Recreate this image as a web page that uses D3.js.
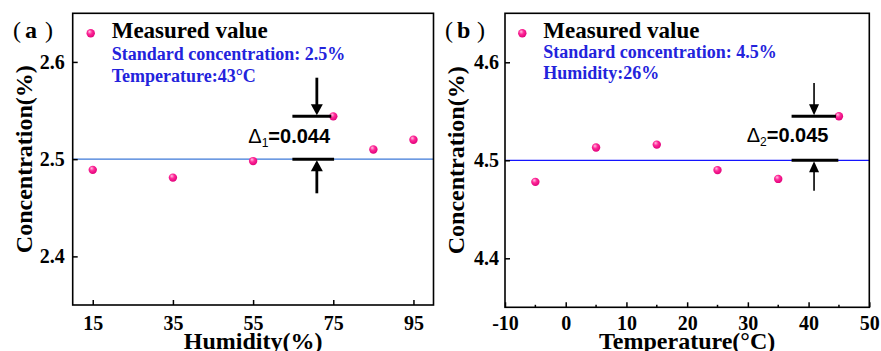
<!DOCTYPE html>
<html>
<head>
<meta charset="utf-8">
<script src="https://cdn.jsdelivr.net/npm/d3@7"></script>
<style>
  html, body { margin: 0; padding: 0; background: #fff; }
  svg { display: block; }
</style>
</head>
<body>
<svg id="chart" width="881" height="351"></svg>
<script>
// ---------------- data ----------------
const humidityA = [15, 35, 55, 75, 85, 95];
const concentrationA = [2.489, 2.481, 2.498, 2.544, 2.510, 2.520];
const temperatureB = [-5, 5, 15, 25, 35, 45];
const concentrationB = [4.478, 4.513, 4.516, 4.490, 4.481, 4.545];

const xTicksA = [15, 35, 55, 75, 95];
const yTicksA = [2.4, 2.5, 2.6];
const xTicksB = [-10, 0, 10, 20, 30, 40, 50];
const xMinorTicksB = [-5, 5, 15, 25, 35, 45];
const yTicksB = [4.4, 4.5, 4.6];

const standardA = 2.5, standardB = 4.5;
const deltaA = "0.044", deltaB = "0.045";

const svg = d3.select("#chart");
const serif = "'Liberation Serif', 'Times New Roman', serif";
const sans = "'Liberation Sans', Arial, sans-serif";

// gradient for spheres
const defs = svg.append("defs");
const grad = defs.append("radialGradient").attr("id", "ball")
  .attr("cx", "45%").attr("cy", "40%").attr("r", "60%").attr("fx", "35%").attr("fy", "30%");
grad.append("stop").attr("offset", "0%").attr("stop-color", "#ffc2e4");
grad.append("stop").attr("offset", "45%").attr("stop-color", "#ff2a98");
grad.append("stop").attr("offset", "100%").attr("stop-color", "#e0007a");

function panel(cfg) {
  const g = svg.append("g");
  const x = d3.scaleLinear().domain(cfg.xDomain).range([cfg.left, cfg.right]);
  const y = d3.scaleLinear().domain(cfg.yDomain).range([cfg.bottom, cfg.top]);

  // standard line
  g.append("line")
    .attr("x1", cfg.left).attr("x2", cfg.right)
    .attr("y1", y(cfg.standard)).attr("y2", y(cfg.standard))
    .attr("stroke", cfg.lineColor).attr("stroke-width", 1.2);

  // x axis
  const xa = g.append("g").attr("transform", `translate(0,${cfg.bottom})`)
    .call(d3.axisBottom(x).tickValues(cfg.xTicks).tickFormat(d => String(d))
      .tickSizeInner(-5).tickSizeOuter(0).tickPadding(cfg.xPad));
  xa.select(".domain").remove();
  xa.selectAll("line").attr("stroke", "#000").attr("stroke-width", 1.5);
  xa.selectAll("text").attr("font-family", serif).attr("font-weight", "bold")
    .attr("font-size", 20).attr("fill", "#000");
  if (cfg.xMinor) {
    g.selectAll(".minor").data(cfg.xMinor).join("line")
      .attr("x1", d => x(d)).attr("x2", d => x(d))
      .attr("y1", cfg.bottom).attr("y2", cfg.bottom - 2.5)
      .attr("stroke", "#000").attr("stroke-width", 1.5);
  }

  // y axis
  const ya = g.append("g").attr("transform", `translate(${cfg.left},0)`)
    .call(d3.axisLeft(y).tickValues(cfg.yTicks).tickFormat(d3.format(".1f"))
      .tickSizeInner(-5).tickSizeOuter(0).tickPadding(cfg.yPad));
  ya.select(".domain").remove();
  ya.selectAll("line").attr("stroke", "#000").attr("stroke-width", 1.5);
  ya.selectAll("text").attr("font-family", serif).attr("font-weight", "bold")
    .attr("font-size", 20).attr("fill", "#000");

  // frame
  g.append("rect").attr("x", cfg.left).attr("y", cfg.top)
    .attr("width", cfg.right - cfg.left).attr("height", cfg.bottom - cfg.top)
    .attr("fill", "none").attr("stroke", "#000").attr("stroke-width", 1.6);

  // points
  g.selectAll(".pt").data(cfg.xs.map((d, i) => [d, cfg.ys[i]])).join("circle")
    .attr("cx", d => x(d[0])).attr("cy", d => y(d[1])).attr("r", 4.2)
    .attr("fill", "url(#ball)");

  // axis titles
  g.append("text").attr("x", (cfg.left + cfg.right) / 2).attr("y", 349)
    .attr("text-anchor", "middle").attr("font-family", serif).attr("font-weight", "bold")
    .attr("font-size", 24).text(cfg.xTitle);
  g.append("text")
    .attr("transform", `translate(${cfg.yTitleX},${(cfg.top + cfg.bottom) / 2}) rotate(-90)`)
    .attr("text-anchor", "middle").attr("font-family", serif).attr("font-weight", "bold")
    .attr("font-size", 24).text("Concentration(%)");

  // panel label
  const pl = g.append("text").attr("y", 38).attr("font-family", serif).attr("font-size", 24);
  pl.append("tspan").attr("x", cfg.labelX).text("(");
  pl.append("tspan").attr("x", cfg.labelX + 12).attr("font-weight", "bold").text(cfg.label);
  pl.append("tspan").attr("x", cfg.labelX + 32).text(")");

  // legend
  g.append("circle").attr("cx", cfg.legendX - 21).attr("cy", 33.3).attr("r", 4.2).attr("fill", "url(#ball)");
  g.append("text").attr("x", cfg.legendX).attr("y", 38).attr("font-family", serif)
    .attr("font-weight", "bold").attr("font-size", 23).text("Measured value");
  g.append("text").attr("x", cfg.legendX).attr("y", cfg.note1Y).attr("font-family", serif)
    .attr("font-weight", "bold").attr("font-size", 18).attr("fill", "#2323dc").text(cfg.note1);
  g.append("text").attr("x", cfg.legendX).attr("y", cfg.note2Y).attr("font-family", serif)
    .attr("font-weight", "bold").attr("font-size", 18).attr("fill", "#2323dc").text(cfg.note2);

  // delta annotation
  const a = cfg.ann;
  const yTop = y(d3.max(cfg.ys)), yStd = y(cfg.standard);
  const ax = x(a.arrowX);
  g.append("line").attr("x1", x(a.barFrom)).attr("x2", x(a.barTo))
    .attr("y1", yTop).attr("y2", yTop).attr("stroke", "#000").attr("stroke-width", 3);
  g.append("line").attr("x1", x(a.barFrom)).attr("x2", x(a.barTo2))
    .attr("y1", yStd).attr("y2", yStd).attr("stroke", "#000").attr("stroke-width", 3);
  // down arrow
  g.append("line").attr("x1", ax).attr("x2", ax).attr("y1", a.downStart).attr("y2", yTop - 8)
    .attr("stroke", "#000").attr("stroke-width", a.shaft);
  g.append("path").attr("d", `M${ax - a.head},${yTop - a.headH}L${ax + a.head},${yTop - a.headH}L${ax},${yTop - 1}Z`)
    .attr("fill", "#000");
  // up arrow
  g.append("line").attr("x1", ax).attr("x2", ax).attr("y1", a.upStart).attr("y2", yStd + 8)
    .attr("stroke", "#000").attr("stroke-width", a.shaft);
  g.append("path").attr("d", `M${ax - a.head},${yStd + a.headH}L${ax + a.head},${yStd + a.headH}L${ax},${yStd + 1}Z`)
    .attr("fill", "#000");

  const t = g.append("text").attr("x", a.textX).attr("y", a.textY)
    .attr("font-family", sans).attr("font-size", 20);
  t.append("tspan").text("Δ");
  t.append("tspan").attr("font-size", 12).attr("dy", 4).text(a.sub);
  t.append("tspan").attr("dy", -4).attr("font-weight", "bold").text("=" + a.value);
}

panel({
  left: 72.7, right: 433.5, top: 13.3, bottom: 305,
  xDomain: [10, 100], yDomain: [2.35, 2.65],
  xTicks: xTicksA, yTicks: yTicksA, xPad: 10.5, yPad: 8,
  xs: humidityA, ys: concentrationA, standard: standardA,
  lineColor: "#3c78d8", xTitle: "Humidity(%)", yTitleX: 32,
  label: "a", labelX: 13, legendX: 111.7,
  note1: "Standard concentration: 2.5%", note1Y: 60,
  note2: "Temperature:43°C", note2Y: 82,
  ann: { arrowX: 70.9, barFrom: 64.8, barTo: 74.5, barTo2: 75.2,
         downStart: 77.7, upStart: 193.3, shaft: 2.8, head: 6, headH: 12,
         textX: 248.3, textY: 143.3, sub: "1", value: deltaA }
});

panel({
  left: 505, right: 869.3, top: 13.3, bottom: 307.3,
  xDomain: [-10, 50], yDomain: [4.35, 4.65],
  xTicks: xTicksB, xMinor: xMinorTicksB, yTicks: yTicksB, xPad: 8.2, yPad: 6,
  xs: temperatureB, ys: concentrationB, standard: standardB,
  lineColor: "#1414ff", xTitle: "Temperature(°C)", yTitleX: 464,
  label: "b", labelX: 445, legendX: 543.3,
  note1: "Standard concentration: 4.5%", note1Y: 58,
  note2: "Humidity:26%", note2Y: 79,
  ann: { arrowX: 40.9, barFrom: 37.2, barTo: 44.5, barTo2: 44.9,
         downStart: 83, upStart: 190.7, shaft: 1.6, head: 5, headH: 12,
         textX: 746.7, textY: 141.7, sub: "2", value: deltaB }
});
</script>
</body>
</html>
